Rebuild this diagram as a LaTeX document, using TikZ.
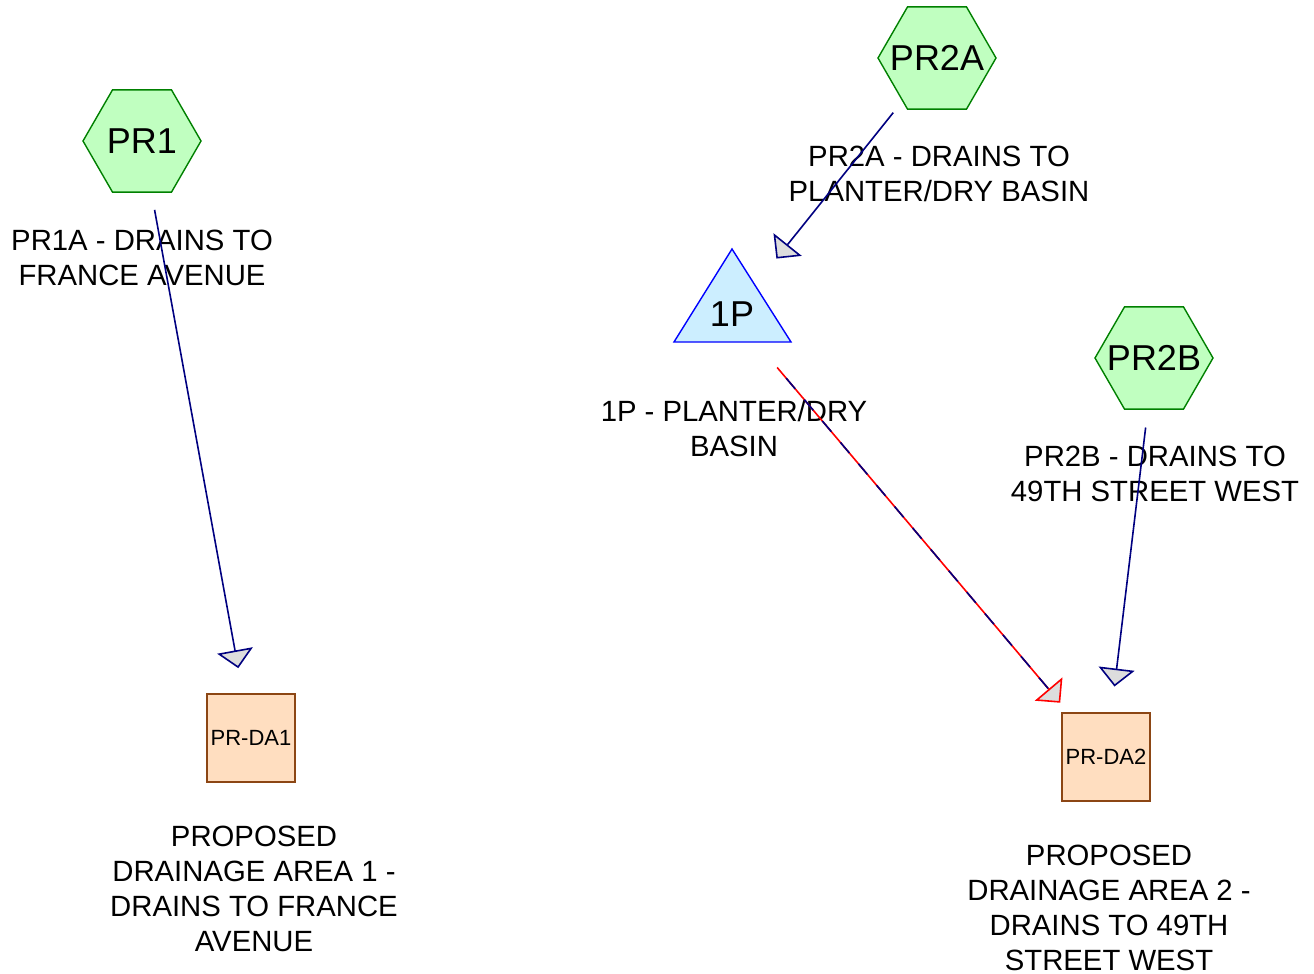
\documentclass[tikz,border=0pt]{standalone}
\usepackage{fontspec}
\setmainfont{Liberation Sans}
\usetikzlibrary{shapes.geometric,arrows.meta}
\definecolor{hexfill}{RGB}{192,255,192}
\definecolor{hexline}{RGB}{0,128,0}
\definecolor{pondfill}{RGB}{204,238,255}
\definecolor{pondline}{RGB}{0,0,255}
\definecolor{areafill}{RGB}{255,222,192}
\definecolor{arealine}{RGB}{140,70,20}
\definecolor{flow}{RGB}{0,0,128}
\definecolor{tipfill}{RGB}{221,221,221}
\begin{document}
\begin{tikzpicture}[x=1pt,y=-1pt,
  reach/.style={regular polygon, regular polygon sides=6, minimum size=118pt, inner sep=0pt,
    draw=hexline, fill=hexfill, line width=1.4pt,
    label={[font=\fontsize{36}{40}\selectfont, inner sep=0pt]center:#1}},
  area/.style={rectangle, minimum size=88pt, inner sep=0pt, draw=arealine, fill=areafill,
    line width=1.4pt, font=\fontsize{22}{26}\selectfont},
  pondtext/.style={inner sep=0pt, font=\fontsize{36}{40}\selectfont},
  caption/.style={align=center, inner sep=0pt, font=\fontsize{29.3}{35}\selectfont},
  flowtip/.style={-{Triangle[length=18pt,width=36pt,fill=tipfill]}},
  link/.style={draw=flow, line width=1.6pt, shorten <=70pt, shorten >=71pt, flowtip},
]
\useasboundingbox (0,0) rectangle (1314,974);

% subcatchments
\node[reach=PR1] (PR1) at (142,141) {};
\node[reach=PR2A] (PR2A) at (937,58) {};
\node[reach=PR2B] (PR2B) at (1154,358) {};

% pond (planter / dry basin)
\draw[draw=pondline, fill=pondfill, line width=1.4pt, line join=miter]
  (732,249) -- (791,342) -- (674,342) -- cycle;
\node[pondtext] (P1) at (732,314) {1P};

% drainage areas
\node[area] (DA1) at (251,738) {PR-DA1};
\node[area] (DA2) at (1106,757) {PR-DA2};

% captions
\node[caption] (cPR1) at (142,258) {PR1A - DRAINS TO\\FRANCE AVENUE};
\node[caption] (cPR2A) at (939,174) {PR2A - DRAINS TO\\PLANTER/DRY BASIN};
\node[caption] (cP1) at (734,429) {1P - PLANTER/DRY\\BASIN};
\node[caption] (cPR2B) at (1155,474) {PR2B - DRAINS TO\\49TH STREET WEST};
\node[caption] (cDA1) at (254,889) {PROPOSED\\DRAINAGE AREA 1 -\\DRAINS TO FRANCE\\AVENUE};
\node[caption] (cDA2) at (1109,908) {PROPOSED\\DRAINAGE AREA 2 -\\DRAINS TO 49TH\\STREET WEST};

% flow links
\draw[link] (PR1.center) -- (DA1.center);
\draw[link] (PR2A.center) -- (P1.center);
\draw[link] (PR2B.center) -- (DA2.center);
\draw[link, draw=red] (P1.center) -- (DA2.center);
\draw[draw=flow, line width=1.6pt, dash pattern=on 14pt off 14pt,
  shorten <=84pt, shorten >=89pt] (P1.center) -- (DA2.center);
\end{tikzpicture}
\end{document}
